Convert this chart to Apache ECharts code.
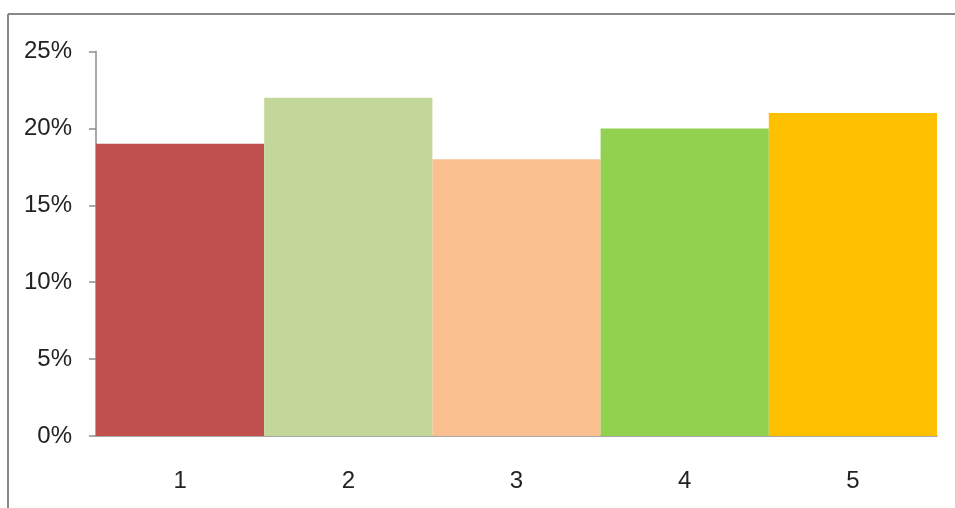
<!DOCTYPE html>
<html>
<head>
<meta charset="utf-8">
<style>
  html, body { margin: 0; padding: 0; background: #fff; }
  #chart { width: 955px; height: 508px; }
</style>
<script src="https://cdn.jsdelivr.net/npm/echarts@6/dist/echarts.min.js"></script>
</head>
<body>
<div id="chart"></div>
<script>
// Category labels along the bottom axis
const categories = ['1', '2', '3', '4', '5'];
// Share per category, in percent
const shares = [19, 22, 18, 20, 21];
// Fill colour for each bar
const barColors = ['#C0504D', '#C4D79B', '#FAC090', '#92D050', '#FFC000'];
// Value axis range and step, in percent
const yMin = 0, yMax = 25, yStep = 5;

const FONT = '"Liberation Sans Narrow", "Liberation Sans", sans-serif';
const AXIS_GRAY = '#8C8C8C';

const chart = echarts.init(document.getElementById('chart'), null, { renderer: 'canvas' });

chart.setOption({
  backgroundColor: '#ffffff',
  animation: false,
  grid: { left: 96, right: 18, top: 51.5, bottom: 72, containLabel: false },
  xAxis: {
    type: 'category',
    data: categories,
    axisLine: { show: true, lineStyle: { color: AXIS_GRAY, width: 1.5 } },
    axisTick: { show: false },
    axisLabel: { margin: 33, fontFamily: FONT, fontSize: 24, color: '#222222' },
    splitLine: { show: false }
  },
  yAxis: {
    type: 'value',
    min: yMin,
    max: yMax,
    interval: yStep,
    axisLine: { show: true, lineStyle: { color: AXIS_GRAY, width: 1.5 } },
    axisTick: { show: true, length: 7, lineStyle: { color: AXIS_GRAY, width: 1.5 } },
    axisLabel: { margin: 24, fontFamily: FONT, fontSize: 24, color: '#222222', formatter: '{value}%' },
    splitLine: { show: false }
  },
  series: [{
    type: 'bar',
    barCategoryGap: '0%',
    data: shares.map((v, i) => ({ value: v, itemStyle: { color: barColors[i] } })),
    z: 1
  }],
  graphic: [
    // Outer frame: top and left edges
    { type: 'line', shape: { x1: 8, y1: 14, x2: 955, y2: 14 }, style: { stroke: '#888888', lineWidth: 2 } },
    { type: 'line', shape: { x1: 8, y1: 14, x2: 8, y2: 508 }, style: { stroke: '#888888', lineWidth: 2 } }
  ]
});
</script>
</body>
</html>
